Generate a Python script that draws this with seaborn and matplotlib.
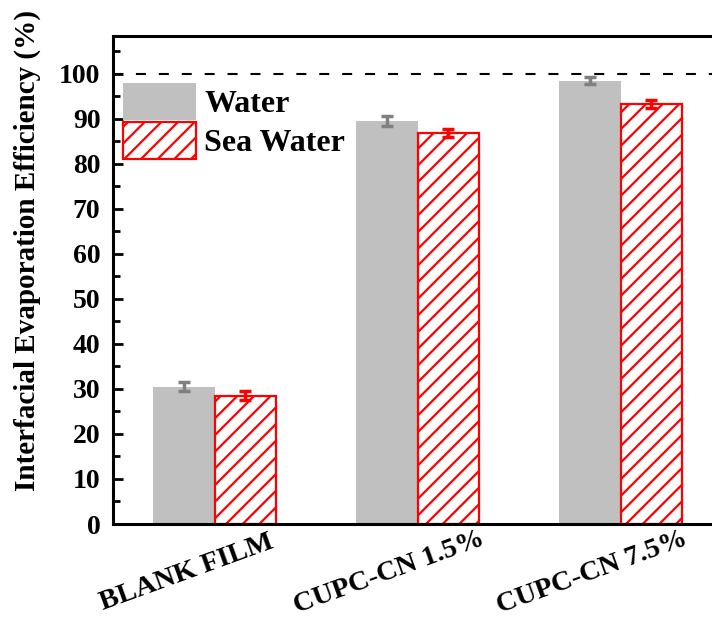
import numpy as np
import pandas as pd
import matplotlib
matplotlib.use('Agg')
import matplotlib.pyplot as plt
import matplotlib.transforms as mtransforms
import seaborn as sns

# values
samples = ['BLANK FILM', 'CUPC-CN 1.5%', 'CUPC-CN 7.5%']
water = [30.5, 89.5, 98.5]
water_err = [1.0, 1.1, 0.7]
sea_water = [28.5, 86.8, 93.3]
sea_water_err = [1.0, 0.9, 0.8]

df = pd.DataFrame({
    'sample': samples * 2,
    'efficiency': water + sea_water,
    'medium': ['Water'] * 3 + ['Sea Water'] * 3,
})

sns.set_style('ticks')
plt.rcParams['font.family'] = ['Liberation Serif', 'DejaVu Serif']
plt.rcParams['font.weight'] = 'bold'
plt.rcParams['hatch.linewidth'] = 1.6
for k in ['text.color', 'axes.labelcolor', 'xtick.color', 'ytick.color', 'axes.edgecolor']:
    plt.rcParams[k] = 'black'

fig = plt.figure(figsize=(7.12, 6.23), dpi=100)
ax = fig.add_axes([113 / 712, 99 / 623, 609 / 712, 488 / 623])

sns.barplot(data=df, x='sample', y='efficiency', hue='medium',
            order=samples, hue_order=['Water', 'Sea Water'],
            palette={'Water': '#c0c0c0', 'Sea Water': 'white'},
            width=0.61, gap=0, errorbar=None, legend=False,
            saturation=1, ax=ax)

water_bars, sea_bars = ax.containers
for p in water_bars:
    p.set_edgecolor('none')
for p in sea_bars:
    p.set_edgecolor('red')
    p.set_linewidth(1.6)
    p.set_hatch('//')

# error bars on top of the bars
for bars, vals, errs, col in [(water_bars, water, water_err, '#808080'),
                              (sea_bars, sea_water, sea_water_err, 'red')]:
    xs = [p.get_x() + p.get_width() / 2 for p in bars]
    ax.errorbar(xs, vals, yerr=errs, fmt='none', ecolor=col,
                elinewidth=2.5, capsize=4.5, capthick=2.5, zorder=5)

ax.axhline(100, color='black', lw=1.5, ls=(0, (4.8, 6.2)))

ax.set_xlim(-0.5, 2.5)
ax.set_ylim(0, 108.4)
ax.set_yticks(np.arange(0, 101, 10))
ax.set_yticks(np.arange(5, 106, 10), minor=True)
ax.tick_params(axis='y', which='major', direction='in', length=7, width=2,
               labelsize=20, pad=9)
ax.tick_params(axis='y', which='minor', direction='in', length=5, width=2)
ax.tick_params(axis='x', length=0, labelsize=20.5, pad=0)
shift = mtransforms.ScaledTranslation(-28 / 100, -49 / 100, fig.dpi_scale_trans)
for lab in ax.get_xticklabels():
    lab.set_rotation(20)
    lab.set_ha('center')
    lab.set_va('center')
    lab.set_rotation_mode('anchor')
    lab.set_fontweight('bold')
    lab.set_transform(lab.get_transform() + shift)
plt.setp(ax.get_yticklabels(), fontweight='bold')

for side in ['left', 'bottom', 'top', 'right']:
    ax.spines[side].set_linewidth(2.2)

ax.set_xlabel('')
ax.set_ylabel('Interfacial Evaporation Efficiency (%)', fontsize=21,
              fontweight='bold')
ax.yaxis.set_label_coords(-0.118, 0.561)

ax.legend([water_bars, sea_bars], ['Water', 'Sea Water'],
          loc='upper left', bbox_to_anchor=(0.0164, 0.903), frameon=False,
          handlelength=2.3, handleheight=1.4,
          labelspacing=0.05, handletextpad=0.25, borderaxespad=0, borderpad=0,
          prop={'weight': 'bold', 'size': 23})

fig.savefig('out.png', dpi=100)
